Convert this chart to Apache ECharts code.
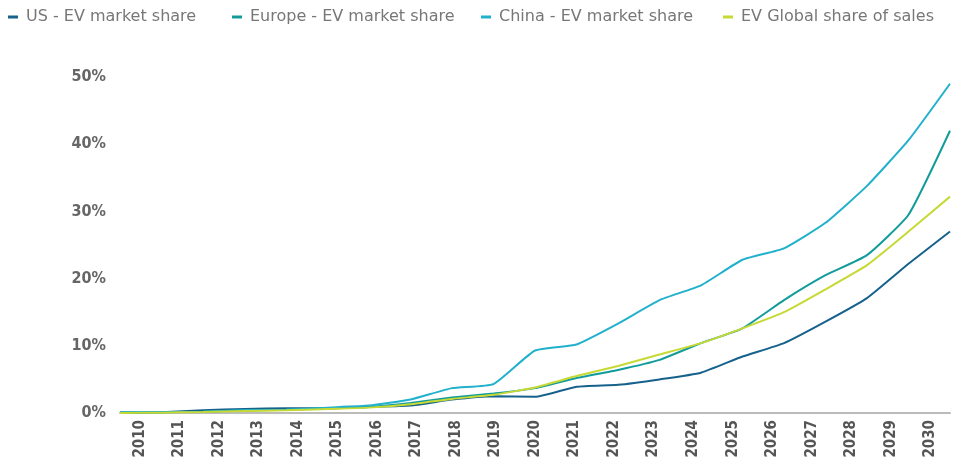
<!DOCTYPE html>
<html>
<head>
<meta charset="utf-8">
<script src="https://cdn.jsdelivr.net/npm/echarts@6/dist/echarts.min.js"></script>
<style>
  html, body { margin: 0; padding: 0; background: #fff; }
  #chart { width: 958px; height: 462px; }
</style>
</head>
<body>
<div id="chart"></div>
<script>
// years on the x axis
var years = ['2010', '2011', '2012', '2013', '2014', '2015', '2016', '2017', '2018', '2019', '2020',
  '2021', '2022', '2023', '2024', '2025', '2026', '2027', '2028', '2029', '2030'];
// EV share, in percent
var usShare = [0, 0.1, 0.4, 0.6, 0.7, 0.7, 0.9, 1.1, 2.0, 2.5, 2.4, 3.9, 4.2, 5.0, 6.0, 8.4, 10.4, 13.6, 17.1, 22.2, 27.0];
var europeShare = [0.1, 0.1, 0.2, 0.4, 0.5, 0.7, 0.9, 1.5, 2.3, 2.9, 3.7, 5.2, 6.4, 7.9, 10.4, 12.6, 16.8, 20.5, 23.5, 29.5, 42.0];
var chinaShare = [0.1, 0.1, 0.2, 0.4, 0.5, 0.8, 1.1, 2.0, 3.7, 4.3, 9.3, 10.2, 13.3, 16.8, 19.0, 22.8, 24.5, 28.3, 33.8, 40.6, 49.0];
var globalShare = [0, 0.05, 0.15, 0.3, 0.4, 0.6, 0.8, 1.3, 2.1, 2.7, 3.8, 5.5, 7.0, 8.7, 10.4, 12.6, 15.0, 18.4, 22.0, 27.0, 32.2];
var yTicks = [0, 10, 20, 30, 40, 50];
var seriesNames = ['US - EV market share', 'Europe - EV market share', 'China - EV market share', 'EV Global share of sales'];

var condensed = '"Liberation Sans Narrow", "DejaVu Sans Condensed", sans-serif';
var legendLeft = [8, 232, 481, 723];

var chart = echarts.init(document.getElementById('chart'));

function line(name, data, color) {
  return {
    name: name,
    type: 'line',
    xAxisIndex: 1,
    data: data,
    symbol: 'none',
    smooth: 0.15,
    lineStyle: { width: 2, color: color },
    itemStyle: { color: color }
  };
}

// one legend per item so they sit where the original has them
var legends = seriesNames.map(function (n, i) {
  return {
    data: [n],
    top: 9,
    left: legendLeft[i],
    padding: 0,
    icon: 'rect',
    itemWidth: 10,
    itemHeight: 3,
    textStyle: { color: '#777', fontSize: 16, fontFamily: '"DejaVu Sans", sans-serif', padding: [0, 0, 0, 3] }
  };
});

var option = {
  animation: false,
  legend: legends,
  grid: { left: 120, right: 8, top: 77, bottom: 49 },
  xAxis: [{
    type: 'category',
    data: years,
    boundaryGap: true,
    axisLine: { lineStyle: { color: '#bbb', width: 2 } },
    axisTick: { show: false },
    axisLabel: {
      rotate: 90,
      interval: 0,
      margin: 7,
      color: '#555',
      fontSize: 15,
      fontWeight: 'bold',
      fontFamily: condensed
    }
  }, {
    type: 'category',
    data: years,
    boundaryGap: false,
    show: false
  }],
  yAxis: {
    type: 'value',
    min: yTicks[0],
    max: yTicks[yTicks.length - 1],
    interval: 10,
    splitLine: { show: false },
    axisLine: { show: false },
    axisTick: { show: false },
    axisLabel: {
      margin: 14,
      color: '#666',
      fontSize: 16,
      fontWeight: 'bold',
      fontFamily: condensed,
      formatter: '{value}%'
    }
  },
  series: [
    line(seriesNames[0], usShare, '#17628c'),
    line(seriesNames[1], europeShare, '#119c9b'),
    line(seriesNames[2], chinaShare, '#22b1cc'),
    line(seriesNames[3], globalShare, '#c6d935')
  ]
};

chart.setOption(option);
</script>
</body>
</html>
